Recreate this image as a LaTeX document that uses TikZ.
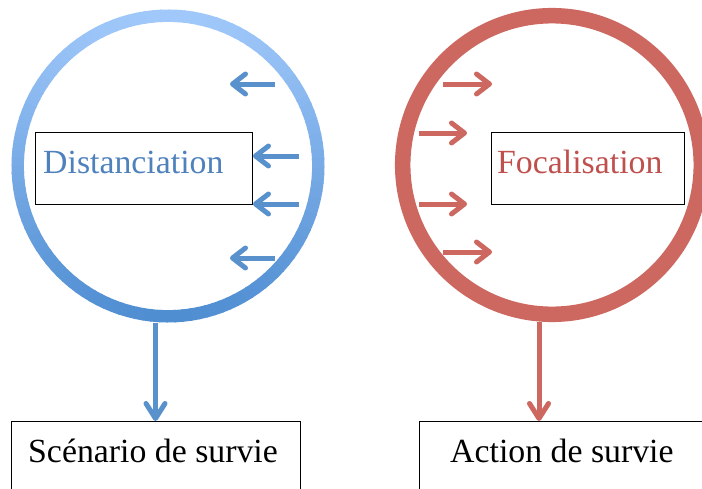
\documentclass[tikz,border=0pt]{standalone}
\usepackage{fontspec}
\setmainfont{Liberation Serif}
\usetikzlibrary{arrows.meta}
\definecolor{bluering1}{RGB}{160,200,250}
\definecolor{bluering2}{RGB}{80,142,210}
\definecolor{bluearr}{RGB}{89,145,205}
\definecolor{redring}{RGB}{205,104,97}
\definecolor{bluetext}{RGB}{79,129,189}
\definecolor{redtext}{RGB}{192,80,77}
\tikzset{
  ringnode/.style={circle, inner sep=0pt, minimum size=313pt},
  blackbox/.style={draw=black, line width=1.2pt, inner sep=0pt, anchor=north west},
  lbl/.style={anchor=base west, inner sep=0pt, font=\fontsize{33.8}{37}\selectfont},
  smallarr/.style={line width=5pt, -{Straight Barb[length=13pt,width=20pt,line cap=round,line join=round]}},
  bigarr/.style={line width=5pt, -{Straight Barb[length=15pt,width=19pt,line cap=round,line join=round]}},
}
\begin{document}
\begin{tikzpicture}[x=1pt,y=-1pt]
\clip (0,0) rectangle (702,488);
\fill[white] (0,0) rectangle (702,488);

% left ring (vertical gradient built from short arcs)
\node[ringnode] (lc) at (168,166) {};
\foreach \a in {0,3,...,357}{
  \pgfmathsetmacro{\p}{(1-sin(\a+1.5))*50}
  \draw[line width=12.4pt, color=bluering1!\p!bluering2]
    (lc.center) ++(\a:150.3) arc[start angle=\a, end angle=\a+3.6, radius=150.3];
}

% right ring
\node[ringnode] (rc) at (552,165) {};
\draw[redring, line width=15.5pt] (rc.center) circle (149.3);

% boxes in circles
\node[blackbox, minimum width=217pt, minimum height=72pt] (db) at (35,132) {};
\node[lbl, text=bluetext] (dt) at (43,173) {Distanciation};
\node[blackbox, minimum width=193pt, minimum height=72pt] (fb) at (491,132) {};
\node[lbl, text=redtext] (ft) at (497,173) {Focalisation};

% bottom boxes
\node[blackbox, minimum width=289pt, minimum height=100pt] (sb) at (11,421) {};
\node[lbl] (st) at (28,462) {Scénario de survie};
\node[blackbox, minimum width=290pt, minimum height=100pt] (ab) at (419,421) {};
\node[lbl] (at) at (450,462) {Action de survie};

% blue inward arrows (pointing left)
\coordinate (b1s) at (275,84);  \coordinate (b1e) at (230,84);
\coordinate (b2s) at (299,156); \coordinate (b2e) at (253,156);
\coordinate (b3s) at (299,204); \coordinate (b3e) at (253,204);
\coordinate (b4s) at (275,258); \coordinate (b4e) at (230,258);
\draw[smallarr, bluearr] (b1s) -- (b1e);
\draw[smallarr, bluearr] (b2s) -- (b2e);
\draw[smallarr, bluearr] (b3s) -- (b3e);
\draw[smallarr, bluearr] (b4s) -- (b4e);

% red inward arrows (pointing right)
\coordinate (r1s) at (443,84);  \coordinate (r1e) at (492,84);
\coordinate (r2s) at (419,133); \coordinate (r2e) at (467,133);
\coordinate (r3s) at (419,204); \coordinate (r3e) at (467,204);
\coordinate (r4s) at (443,252); \coordinate (r4e) at (492,252);
\draw[smallarr, redring] (r1s) -- (r1e);
\draw[smallarr, redring] (r2s) -- (r2e);
\draw[smallarr, redring] (r3s) -- (r3e);
\draw[smallarr, redring] (r4s) -- (r4e);

% down arrows
\coordinate (lt) at ([xshift=-12.5pt]lc.south);
\draw[bigarr, bluearr] (lt) -- (lt |- sb.north);
\coordinate (rt) at ([xshift=-13pt]rc.south);
\draw[bigarr, redring] (rt) -- (rt |- ab.north);
\end{tikzpicture}
\end{document}
